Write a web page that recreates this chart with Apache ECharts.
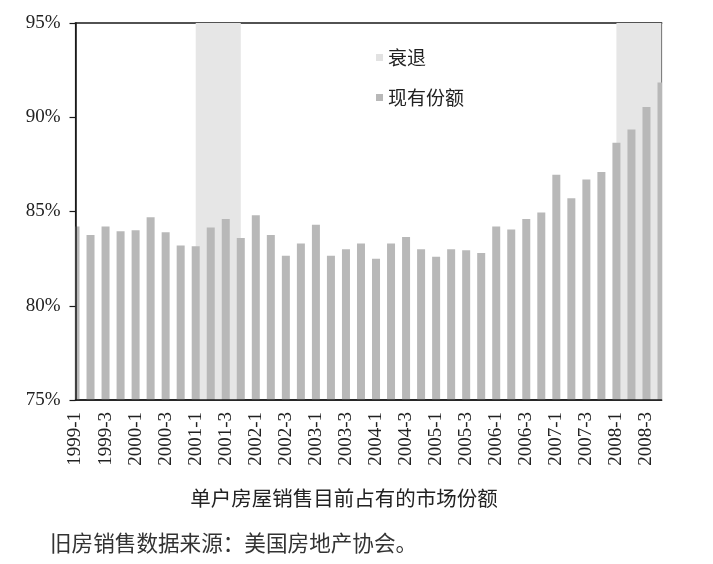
<!DOCTYPE html>
<html>
<head>
<meta charset="utf-8">
<script src="https://cdn.jsdelivr.net/npm/echarts@6/dist/echarts.min.js"></script>
<style>
html,body{margin:0;padding:0;background:#fff;}
#c{width:713px;height:564px;}
</style>
</head>
<body>
<div id="c"></div>
<script>
var categories = [
  '1999-1','1999-2','1999-3','1999-4',
  '2000-1','2000-2','2000-3','2000-4',
  '2001-1','2001-2','2001-3','2001-4',
  '2002-1','2002-2','2002-3','2002-4',
  '2003-1','2003-2','2003-3','2003-4',
  '2004-1','2004-2','2004-3','2004-4',
  '2005-1','2005-2','2005-3','2005-4',
  '2006-1','2006-2','2006-3','2006-4',
  '2007-1','2007-2','2007-3','2007-4',
  '2008-1','2008-2','2008-3','2008-4'
];
var shareValues = [
  84.2, 83.75, 84.2, 83.95,
  84.0, 84.7, 83.9, 83.2,
  83.15, 84.15, 84.6, 83.6,
  84.8, 83.75, 82.65, 83.3,
  84.3, 82.65, 83.0, 83.3,
  82.5, 83.3, 83.65, 83.0,
  82.6, 83.0, 82.95, 82.8,
  84.2, 84.05, 84.6, 84.95,
  86.95, 85.7, 86.7, 87.1,
  88.65, 89.35, 90.55, 91.85
];
var recessions = [['2001-1','2001-4'],['2008-1','2008-4']];
var yTicks = {min: 75, max: 95, interval: 5};
var seriesNames = ['衰退', '现有份额'];
var xTitle = '单户房屋销售目前占有的市场份额';
var sourceNote = '旧房销售数据来源：美国房地产协会。';

var chart = echarts.init(document.getElementById('c'), null, {renderer: 'canvas'});
var serif = 'Liberation Serif, Times New Roman, serif';
var cjk = 'Noto Sans CJK SC, sans-serif';

var gridLeft = 75.5, gridRight = 51.5, gridTop = 23, gridBottom = 164;

chart.setOption({
  animation: false,
  backgroundColor: '#ffffff',
  grid: {
    left: gridLeft, right: gridRight, top: gridTop, bottom: gridBottom,
    show: true, borderColor: '#1a1a1a', borderWidth: 1.5, backgroundColor: 'transparent'
  },
  legend: {
    orient: 'vertical',
    left: 371, top: 43,
    itemWidth: 7, itemHeight: 7, itemGap: 21,
    textStyle: {fontFamily: cjk, fontSize: 19, color: '#222'},
    data: [
      {name: seriesNames[0], icon: 'rect', itemStyle: {color: '#e2e2e2'}},
      {name: seriesNames[1], icon: 'rect', itemStyle: {color: '#b8b8b8'}}
    ]
  },
  xAxis: {
    type: 'category',
    data: categories,
    boundaryGap: false,
    z: 10,
    axisLine: {show: true, lineStyle: {color: '#1a1a1a', width: 1.5}},
    axisTick: {show: false},
    axisLabel: {
      interval: 1, rotate: 90, margin: 12,
      fontFamily: serif, fontSize: 19, color: '#222'
    },
    splitLine: {show: false}
  },
  yAxis: {
    type: 'value',
    min: yTicks.min, max: yTicks.max, interval: yTicks.interval,
    z: 10,
    axisLine: {show: true, lineStyle: {color: '#1a1a1a', width: 1.5}},
    axisTick: {show: true, inside: false, length: 6, lineStyle: {color: '#1a1a1a', width: 1.2}},
    axisLabel: {
      formatter: '{value}%', margin: 15,
      fontFamily: serif, fontSize: 19, color: '#222'
    },
    splitLine: {show: false}
  },
  series: [
    {
      name: seriesNames[0],
      type: 'line',
      data: [],
      z: 1,
      itemStyle: {color: '#e2e2e2'},
      lineStyle: {color: '#e2e2e2'},
      markArea: {
        silent: true,
        itemStyle: {color: '#e6e6e6'},
        data: recessions.map(function (r) { return [{xAxis: r[0]}, {xAxis: r[1]}]; })
      }
    },
    {
      name: seriesNames[1],
      type: 'bar',
      data: shareValues,
      barWidth: 8,
      z: 2,
      itemStyle: {color: '#b8b8b8'}
    }
  ],
  graphic: [
    {
      type: 'rect', z: 5, silent: true,
      shape: {x: gridLeft - 12, y: gridTop + 1, width: 11.2, height: 564 - gridTop - gridBottom - 1},
      style: {fill: '#ffffff'}
    },
    {
      type: 'rect', z: 5, silent: true,
      shape: {x: 713 - gridRight + 0.8, y: gridTop + 1, width: 12, height: 564 - gridTop - gridBottom - 1},
      style: {fill: '#ffffff'}
    },
    {
      type: 'text', x: 344, y: 498,
      style: {text: xTitle, fontFamily: cjk, fontSize: 20.5, fill: '#222',
              align: 'center', verticalAlign: 'middle'}
    },
    {
      type: 'text', x: 50, y: 543,
      style: {text: sourceNote, fontFamily: cjk, fontSize: 21.6, fill: '#333',
              align: 'left', verticalAlign: 'middle'}
    }
  ]
});
</script>
</body>
</html>
